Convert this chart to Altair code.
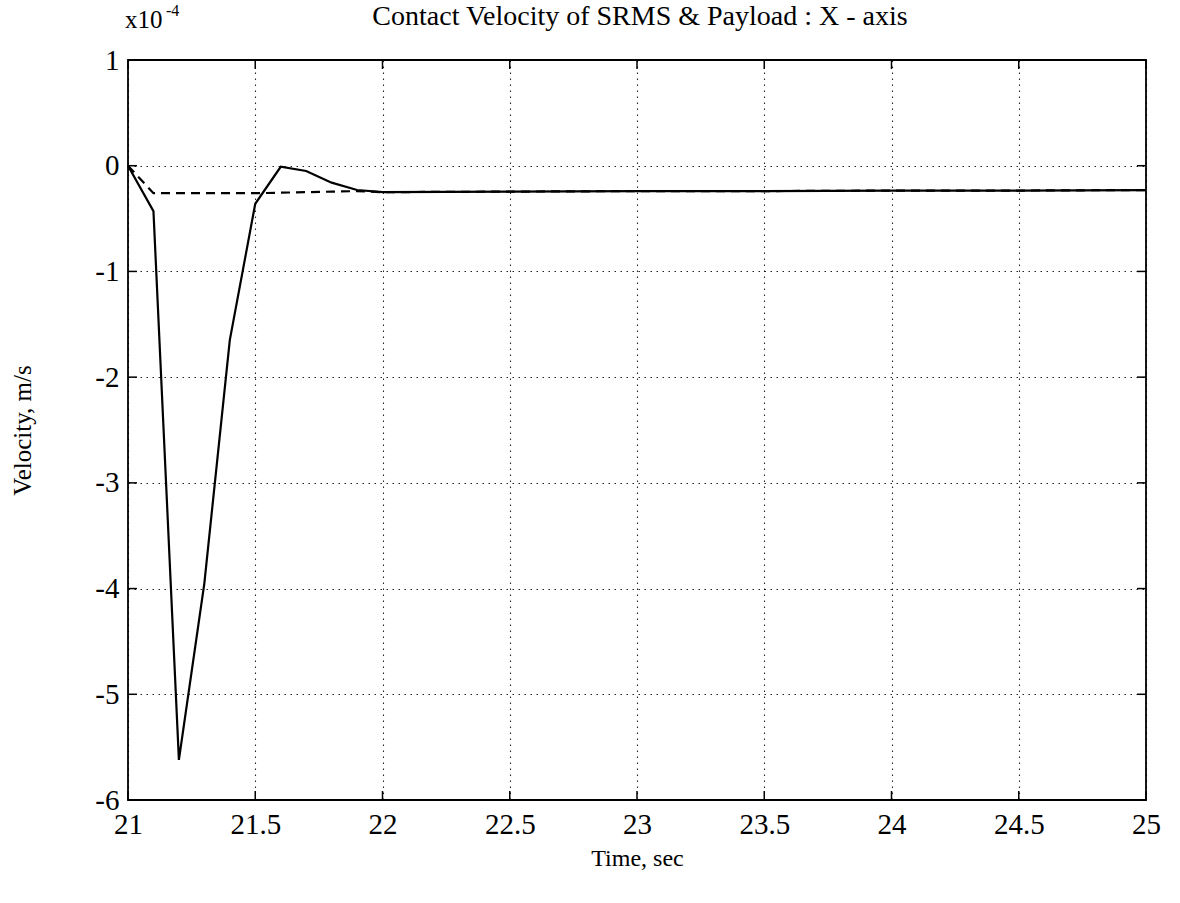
import altair as alt
import pandas as pd

# Time samples (s) and contact velocities (x1e-4 m/s)
time_s = [21.0, 21.1, 21.2, 21.3, 21.4, 21.5, 21.6, 21.7, 21.8, 21.9, 22.0,
          22.5, 23.0, 23.5, 24.0, 24.5, 25.0]
srms_vel = [0.0, -0.43, -5.62, -3.95, -1.65, -0.36, -0.01, -0.05, -0.16, -0.23, -0.25,
            -0.245, -0.24, -0.24, -0.235, -0.235, -0.23]
payload_vel = [0.0, -0.26, -0.26, -0.26, -0.26, -0.26, -0.255, -0.25, -0.245, -0.24, -0.25,
               -0.245, -0.24, -0.24, -0.235, -0.235, -0.23]

x_ticks = [21, 21.5, 22, 22.5, 23, 23.5, 24, 24.5, 25]
y_ticks = [1, 0, -1, -2, -3, -4, -5, -6]

TITLE = "Contact Velocity of SRMS & Payload : X - axis"

W, H = 1018, 740
FONT = "Liberation Serif, Times New Roman, serif"
TICK = 9

lines = pd.DataFrame({"t": time_s, "srms": srms_vel, "payload": payload_vel})
xt = pd.DataFrame({"t": x_ticks})
yt = pd.DataFrame({"v": y_ticks})

xs = alt.Scale(domain=[21, 25], nice=False, zero=False)
ys = alt.Scale(domain=[-6, 1], nice=False, zero=False)

grid_style = dict(grid=True, gridColor="black", gridDash=[1.5, 4.5], gridWidth=1.1,
                  gridOpacity=0.85, ticks=False, domain=False, labelFlush=False,
                  labelFont=FONT, labelFontSize=29, labelColor="black",
                  labelExpr="toString(datum.value)",
                  titleFont=FONT, titleFontWeight="normal", titleColor="black",
                  titleAlign="center", titleBaseline="middle")

x_axis = alt.Axis(values=x_ticks, labelPadding=10,
                  title="Time, sec", titleFontSize=24, titleX=W / 2, titleY=58,
                  **grid_style)
y_axis = alt.Axis(values=y_ticks, labelPadding=9,
                  title="Velocity, m/s", titleFontSize=25, titleAngle=270,
                  titleX=-106, titleY=H / 2, **grid_style)

X = alt.X("t:Q", scale=xs, axis=x_axis)

solid = alt.Chart(lines).mark_line(color="black", strokeWidth=2.2).encode(
    x=X, y=alt.Y("srms:Q", scale=ys, axis=y_axis))
dashed = alt.Chart(lines).mark_line(color="black", strokeWidth=2.2, strokeDash=[9, 6]).encode(
    x=X, y=alt.Y("payload:Q", scale=ys, axis=y_axis))

# Inward tick marks on all four sides
tick_bottom = alt.Chart(xt).mark_rule(color="black", strokeWidth=1.5).encode(
    x=X, y=alt.value(H), y2=alt.value(H - TICK))
tick_top = alt.Chart(xt).mark_rule(color="black", strokeWidth=1.5).encode(
    x=X, y=alt.value(0), y2=alt.value(TICK))
tick_left = alt.Chart(yt).mark_rule(color="black", strokeWidth=1.5).encode(
    y=alt.Y("v:Q", scale=ys, axis=y_axis), x=alt.value(0), x2=alt.value(TICK))
tick_right = alt.Chart(yt).mark_rule(color="black", strokeWidth=1.5).encode(
    y=alt.Y("v:Q", scale=ys, axis=y_axis), x=alt.value(W), x2=alt.value(W - TICK))

# Title and exponent annotation above the plot
title_txt = alt.Chart(pd.DataFrame({"s": [TITLE]})).mark_text(
    font=FONT, fontSize=28, align="center", baseline="alphabetic", color="black").encode(
    text="s:N", x=alt.value(W / 2 + 3), y=alt.value(-35))
exp_base = alt.Chart(pd.DataFrame({"s": ["x10"]})).mark_text(
    font=FONT, fontSize=25, align="left", baseline="alphabetic", color="black").encode(
    text="s:N", x=alt.value(-3), y=alt.value(-32))
exp_pow = alt.Chart(pd.DataFrame({"s": ["-4"]})).mark_text(
    font=FONT, fontSize=16, align="left", baseline="alphabetic", color="black").encode(
    text="s:N", x=alt.value(38), y=alt.value(-44))

chart = alt.layer(solid, dashed, tick_bottom, tick_top, tick_left, tick_right,
                  title_txt, exp_base, exp_pow).properties(
    width=W, height=H,
    background="white",
    autosize=alt.AutoSizeParams(type="none"),
    padding={"left": 128, "top": 60, "right": 34, "bottom": 103},
).configure_view(stroke="black", strokeWidth=1.8)

chart.save("out.html", embed_options={"renderer": "svg", "actions": False})
